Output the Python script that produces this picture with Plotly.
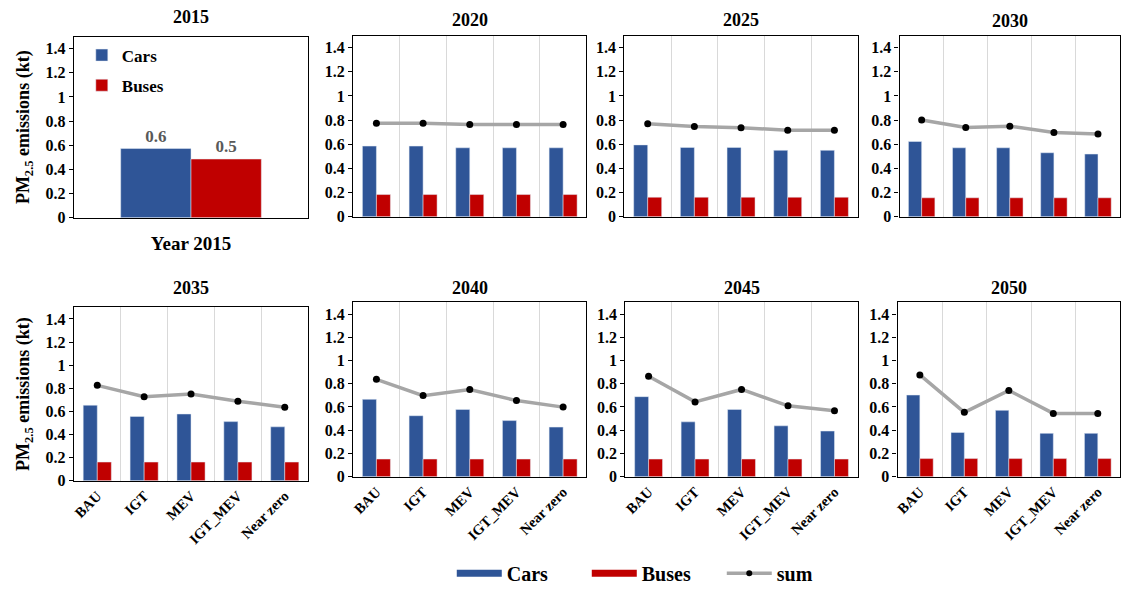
import plotly.graph_objects as go

# ---------------- data ----------------
scenarios = ["BAU", "IGT", "MEV", "IGT_MEV", "Near zero"]
y_ticks = [0, 0.2, 0.4, 0.6, 0.8, 1, 1.2, 1.4]
y_tick_labels = ["0", "0.2", "0.4", "0.6", "0.8", "1", "1.2", "1.4"]

base_category = ["Year 2015"]
cars_2015 = [0.573]
buses_2015 = [0.486]
cars_2015_text = ["0.6"]
buses_2015_text = ["0.5"]

years = ["2020", "2025", "2030", "2035", "2040", "2045", "2050"]

cars_2020 = [0.585, 0.585, 0.571, 0.571, 0.571]
buses_2020 = [0.184, 0.184, 0.184, 0.184, 0.184]
sum_2020 = [0.774, 0.774, 0.764, 0.764, 0.764]

cars_2025 = [0.595, 0.574, 0.574, 0.550, 0.550]
buses_2025 = [0.162, 0.162, 0.162, 0.162, 0.162]
sum_2025 = [0.769, 0.747, 0.737, 0.717, 0.717]

cars_2030 = [0.623, 0.571, 0.571, 0.530, 0.519]
buses_2030 = [0.157, 0.157, 0.157, 0.157, 0.157]
sum_2030 = [0.801, 0.739, 0.750, 0.698, 0.686]

cars_2035 = [0.653, 0.556, 0.577, 0.511, 0.466]
buses_2035 = [0.161, 0.161, 0.161, 0.161, 0.161]
sum_2035 = [0.825, 0.726, 0.749, 0.687, 0.636]

cars_2040 = [0.666, 0.525, 0.579, 0.483, 0.427]
buses_2040 = [0.152, 0.152, 0.152, 0.152, 0.152]
sum_2040 = [0.838, 0.698, 0.751, 0.655, 0.599]

cars_2045 = [0.689, 0.472, 0.579, 0.438, 0.393]
buses_2045 = [0.152, 0.152, 0.152, 0.152, 0.152]
sum_2045 = [0.864, 0.644, 0.751, 0.610, 0.567]

cars_2050 = [0.703, 0.381, 0.571, 0.373, 0.373]
buses_2050 = [0.156, 0.156, 0.156, 0.156, 0.156]
sum_2050 = [0.876, 0.554, 0.743, 0.545, 0.545]

cars_series = [cars_2020, cars_2025, cars_2030, cars_2035, cars_2040, cars_2045, cars_2050]
buses_series = [buses_2020, buses_2025, buses_2030, buses_2035, buses_2040, buses_2045, buses_2050]
sum_series = [sum_2020, sum_2025, sum_2030, sum_2035, sum_2040, sum_2045, sum_2050]

# ---------------- style ----------------
W, H = 1130, 596
OFF = 8                      # page body margin of the html page
FW, FH = W - OFF, H - OFF    # figure size


def px_x(v):
    return (v - OFF) / FW


def px_y(v):
    return 1 - (v - OFF) / FH


FONT = "Liberation Serif"
BLUE = "#2F5597"
RED = "#C00000"
GRAY = "#A6A6A6"
# plot-area boxes in page pixels (left, right, top, bottom)
boxes = [
    (71, 306, 37, 221), (351, 585, 36, 220), (623, 857, 36, 220), (899, 1120, 36, 220),
    (71, 306, 312, 488), (351, 585, 307, 484), (624, 857, 307, 484), (897, 1120, 307, 484),
]
title_ys = [17, 20, 20, 21, 292, 292, 292, 292]

fig = go.Figure()
positions = list(range(len(scenarios)))
boundaries = [p + 0.5 for p in positions[:-1]]

panel_titles = ["2015"] + years
annotations = []

for idx in range(8):
    r, c = divmod(idx, 4)
    k = idx + 1
    xa = "x" if k == 1 else f"x{k}"
    ya = "y" if k == 1 else f"y{k}"
    x0, x1, y0, y1 = boxes[idx]
    xdom = [px_x(x0), px_x(x1)]
    ydom = [px_y(y1), px_y(y0)]

    if idx == 0:
        fig.add_trace(go.Bar(x=base_category, y=cars_2015, name="Cars", marker_color=BLUE,
                             text=cars_2015_text, textposition="outside", cliponaxis=False,
                             textfont=dict(family=FONT, size=17, color="#595959", weight="bold"),
                             xaxis=xa, yaxis=ya, legend="legend2", legendgroup="c2"))
        fig.add_trace(go.Bar(x=base_category, y=buses_2015, name="Buses", marker_color=RED,
                             text=buses_2015_text, textposition="outside", cliponaxis=False,
                             textfont=dict(family=FONT, size=17, color="#595959", weight="bold"),
                             xaxis=xa, yaxis=ya, legend="legend2", legendgroup="b2"))
        xaxis_cfg = dict(type="category", showticklabels=True,
                         tickfont=dict(family=FONT, size=19, color="#000", weight="bold"),
                         ticklabelstandoff=8)
    else:
        j = idx - 1
        fig.add_trace(go.Bar(x=positions, y=cars_series[j], name="Cars", marker_color=BLUE,
                             showlegend=False, xaxis=xa, yaxis=ya))
        fig.add_trace(go.Bar(x=positions, y=buses_series[j], name="Buses", marker_color=RED,
                             showlegend=False, xaxis=xa, yaxis=ya))
        fig.add_trace(go.Scatter(x=positions, y=sum_series[j], name="sum", mode="lines+markers",
                                 line=dict(color=GRAY, width=3.5),
                                 marker=dict(color="#000", size=7, symbol="circle"),
                                 showlegend=False, xaxis=xa, yaxis=ya, cliponaxis=False))
        xaxis_cfg = dict(range=[-0.5, len(scenarios) - 0.5], tickmode="array",
                         tickvals=positions, ticktext=scenarios,
                         showticklabels=(r == 1), tickangle=-45,
                         tickfont=dict(family=FONT, size=14.5, color="#000", weight="bold"),
                         minor=dict(tickmode="array", tickvals=boundaries, showgrid=True,
                                    gridcolor="#D9D9D9", gridwidth=1, ticks=""))

    xaxis_cfg.update(dict(domain=xdom, anchor=ya, showgrid=False, zeroline=False,
                          showline=True, linecolor="#000", linewidth=1.3, mirror=True,
                          ticks=""))
    yaxis_cfg = dict(domain=ydom, anchor=xa, range=[0, 1.5], tickmode="array",
                     tickvals=y_ticks, ticktext=y_tick_labels, showgrid=False, zeroline=False,
                     showline=True, linecolor="#000", linewidth=1.3, mirror=True,
                     ticks="outside", ticklen=4, tickcolor="#000",
                     tickfont=dict(family=FONT, size=16, color="#000", weight="bold"))
    fig.layout["xaxis" if k == 1 else f"xaxis{k}"] = xaxis_cfg
    fig.layout["yaxis" if k == 1 else f"yaxis{k}"] = yaxis_cfg

    annotations.append(dict(text=panel_titles[idx], x=px_x((x0 + x1) / 2), y=px_y(title_ys[idx]),
                            xref="paper", yref="paper", showarrow=False,
                            xanchor="center", yanchor="middle",
                            font=dict(family=FONT, size=18, color="#000", weight="bold")))
    if c == 0:
        annotations.append(dict(text="PM<sub>2.5</sub> emissions (kt)", textangle=-90,
                                x=px_x(21), y=px_y((y0 + y1) / 2), xref="paper", yref="paper",
                                showarrow=False, xanchor="center", yanchor="middle",
                                font=dict(family=FONT, size=18, color="#000", weight="bold")))

# legend-only entries for the bottom legend
fig.add_trace(go.Scatter(x=[None], y=[None], mode="lines", name="Cars",
                         line=dict(color=BLUE, width=7), legend="legend"))
fig.add_trace(go.Scatter(x=[None], y=[None], mode="lines", name="Buses",
                         line=dict(color=RED, width=7), legend="legend"))
fig.add_trace(go.Scatter(x=[None], y=[None], mode="lines+markers", name="sum",
                         line=dict(color=GRAY, width=3.5),
                         marker=dict(color="#000", size=6), legend="legend"))

fig.update_layout(
    width=FW, height=FH, margin=dict(l=0, r=0, t=0, b=0),
    paper_bgcolor="#fff", plot_bgcolor="#fff",
    barmode="group", bargap=0.4, bargroupgap=0,
    annotations=annotations,
    legend=dict(orientation="h", x=px_x(653), xanchor="center", y=px_y(582), yanchor="middle",
                font=dict(family=FONT, size=20, color="#000", weight="bold"),
                bgcolor="rgba(0,0,0,0)", itemwidth=45,
                entrywidth=75, entrywidthmode="pixels"),
    legend2=dict(orientation="v", x=px_x(79), xanchor="left", y=px_y(38), yanchor="top",
                 font=dict(family=FONT, size=17, color="#000", weight="bold"),
                 bgcolor="rgba(0,0,0,0)", tracegroupgap=5),
    font=dict(family=FONT),
)

fig.write_html("out.html")
